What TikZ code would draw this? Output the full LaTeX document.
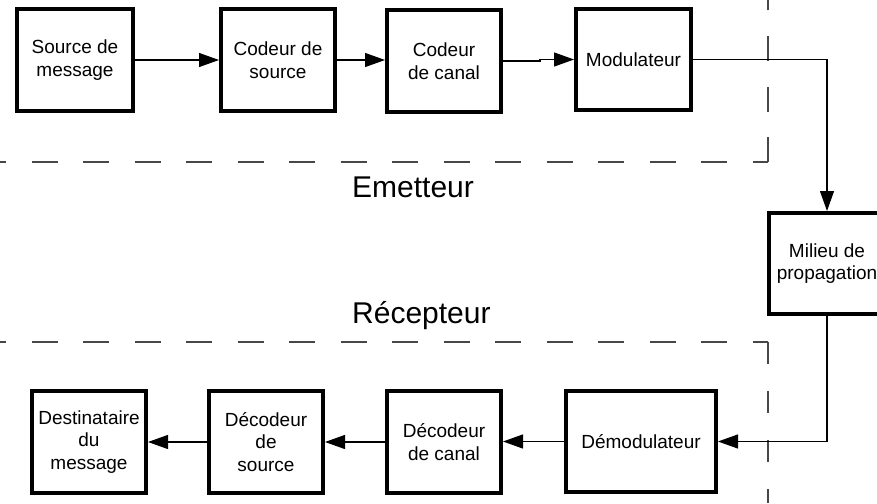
\documentclass[tikz,border=0pt]{standalone}
\usepackage{fontspec}
\setmainfont{Liberation Sans}
\usetikzlibrary{arrows.meta}

\begin{document}
\begin{tikzpicture}[x=1pt,y=-1pt,
  blk/.style={draw=black, line width=4pt, fill=white, inner sep=0pt,
    align=center, font=\fontsize{19}{22.5}\selectfont,
    minimum width=114pt, minimum height=102pt},
  link/.style={draw=black, line width=1.2pt,
    -{Triangle[length=20pt,width=14pt]}},
  zone/.style={draw=black!72, line width=1.3pt},
  title/.style={anchor=base west, inner sep=0pt, font=\fontsize{30}{34}\selectfont}
]
\useasboundingbox (0,0) rectangle (877,503);
\fill[white] (0,0) rectangle (877,503);

% transmitter and receiver zones
\draw[zone, dash pattern=on 26pt off 25.5pt, dash phase=19.8pt] (0,162) -- (768,162);
\draw[zone, dash pattern=on 25pt off 25.5pt] (768,162) -- (768,0);
\draw[zone, dash pattern=on 26pt off 25.5pt, dash phase=19.8pt] (0,342) -- (768,342);
\draw[zone, dash pattern=on 22pt off 27pt] (768,342) -- (768,503);

\node[title] (emet) at (352,197) {Emetteur};
\node[title] (recep) at (352,323) {Récepteur};

% transmitter chain
\node[blk, minimum width=116pt] (src) at (75,60) {Source de\\message};
\node[blk] (cs)  at (278,60) {Codeur de\\source};
\node[blk] (cc)  at (444,61) {Codeur\\de canal};
\node[blk, minimum width=115pt, minimum height=101pt] (mod) at (633.5,59.5) {Modulateur};

% channel
\begin{scope}
\clip (0,0) rectangle (877,503);
\node[blk, minimum width=116pt, minimum height=101pt] (mil) at (827,263.5) {Milieu de\\propagation};
\end{scope}

% receiver chain
\node[blk] (dest) at (89,442) {Destinataire\\du\\message};
\node[blk] (ds)   at (266,442) {Décodeur\\de\\source};
\node[blk] (dc)   at (444,442) {Décodeur\\de canal};
\node[blk, minimum width=150pt, minimum height=101pt] (dem) at (641,441.5) {Démodulateur};

% connectors
\draw[link] (src) -- (cs);
\draw[link] (cs.east) -- (cs.east -| cc.west);
\draw[link] (cc.east) -- ++(37,0) |- (mod.west);
\draw[link] (mod.east) -| (mil.north);
\draw[link] (mil.south) |- (dem.east);
\draw[link] (dem.west) -- (dem.west -| dc.east);
\draw[link] (dc) -- (ds);
\draw[link] (ds) -- (dest);
\end{tikzpicture}
\end{document}
